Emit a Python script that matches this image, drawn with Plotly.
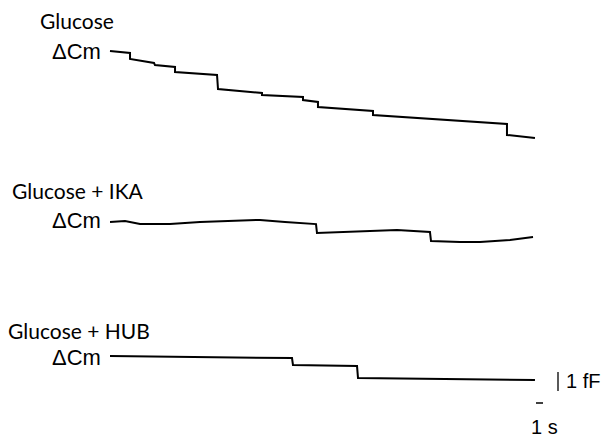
import plotly.graph_objects as go

# ---- data (time in s, capacitance change in fF relative to trace start) ----
glucose_t = [0, 2.86, 2.86, 6.29, 6.43, 9.29, 9.29, 15.29, 15.43, 21.71, 21.71,
             27.57, 27.57, 29.71, 29.71, 37.57, 37.57, 56.71, 56.71, 60.71]
glucose_cm = [0, -0.10, -0.42, -0.63, -0.74, -0.84, -1.11, -1.26, -2.00, -2.21, -2.32,
              -2.42, -2.58, -2.68, -2.95, -3.16, -3.37, -3.84, -4.42, -4.58]

ika_t = [0, 2.14, 4.29, 8.57, 12.86, 17.14, 21.43, 25.0, 29.43, 29.57, 32.86,
         37.14, 41.0, 45.71, 45.86, 50.0, 52.86, 57.14, 60.43]
ika_cm = [0, 0.05, -0.11, -0.11, 0, 0.05, 0.11, 0, -0.11, -0.58, -0.53,
          -0.47, -0.42, -0.53, -1.00, -1.05, -1.05, -0.95, -0.79]

hub_t = [0, 12.86, 26.0, 26.14, 35.29, 35.43, 48.57, 60.71]
hub_cm = [0, -0.05, -0.11, -0.47, -0.53, -1.16, -1.21, -1.26]

conditions = ["Glucose", "Glucose + IKA", "Glucose + HUB"]
ylabel = "ΔCm"
scale_t = 1   # s
scale_cm = 1  # fF

# ---- layout constants ----
W, H = 609, 438
PX_PER_S = 7.0
PX_PER_FF = 19.0
X0 = 110  # pixel of t=0
offsets = [(H - 51) / PX_PER_FF, (H - 222) / PX_PER_FF, (H - 356) / PX_PER_FF]

fig = go.Figure()
for (t, cm), off in zip([(glucose_t, glucose_cm), (ika_t, ika_cm), (hub_t, hub_cm)], offsets):
    fig.add_trace(go.Scatter(x=t, y=[v + off for v in cm], mode="lines",
                             line=dict(color="black", width=2), hoverinfo="skip",
                             showlegend=False))

xr = [-X0 / PX_PER_S, (W - X0) / PX_PER_S]
yr = [0, H / PX_PER_FF]

def px2t(px):
    return (px - X0) / PX_PER_S

def py2y(py):
    return (H - py) / PX_PER_FF

# scale bars
vx = px2t(558)
vy0 = py2y(391)
fig.add_shape(type="line", x0=vx, x1=vx, y0=vy0, y1=vy0 + scale_cm,
              line=dict(color="black", width=1.3))
hx0 = px2t(536)
hy = py2y(403)
fig.add_shape(type="line", x0=hx0, x1=hx0 + scale_t, y0=hy, y1=hy,
              line=dict(color="black", width=1.5))

def ann(text, px, py, size, family, xanchor="left"):
    fig.add_annotation(text=text, x=px / W, y=1 - py / H, xref="paper", yref="paper",
                       xanchor=xanchor, yanchor="middle", showarrow=False,
                       font=dict(size=size, family=family, color="black"))

lab_font = "Lato, Open Sans, sans-serif"
arial = "Liberation Sans, Arial, sans-serif"
ann(conditions[0], 38, 20, 21, lab_font)
ann(conditions[1], 10, 190, 21, lab_font)
ann(conditions[2], 6, 330, 21, lab_font)
for py in [51, 220, 357]:
    ann(ylabel, 50, py, 22, arial)
ann(f"{scale_cm} fF", 564, 381, 20, arial)
ann(f"{scale_t} s", 529, 427, 20, arial)

fig.update_layout(width=W, height=H, margin=dict(l=0, r=0, t=0, b=0),
                  paper_bgcolor="white", plot_bgcolor="white",
                  xaxis=dict(range=xr, visible=False, fixedrange=True),
                  yaxis=dict(range=yr, visible=False, fixedrange=True))

fig.write_html("out.html", post_script="document.body.style.margin='0';",
               config={"displayModeBar": False})
